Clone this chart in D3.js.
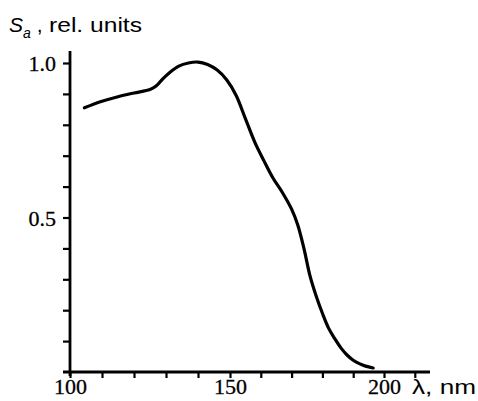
<!DOCTYPE html>
<html><head><meta charset="utf-8">
<script src="https://cdn.jsdelivr.net/npm/d3@7"></script>
<style>body{margin:0;background:#fff}svg{display:block}
.serif{font-family:"Liberation Serif","Times New Roman",serif !important}</style>
</head><body>
<script>
const wavelength = [104.5,110,115,120,125,127,129,131,134,137,140,143,146,149,152,155,158,161,164,167,170,172,174,176,178,180,182,184,186,188,190,192,194,196.5];
const sa = [0.855,0.876,0.891,0.903,0.914,0.926,0.949,0.968,0.990,1.000,1.003,0.995,0.977,0.945,0.895,0.820,0.745,0.684,0.627,0.581,0.527,0.476,0.400,0.310,0.245,0.190,0.142,0.108,0.078,0.055,0.038,0.027,0.019,0.013];
const xTicks = [100,110,120,130,140,150,160,170,180,190,200,210];
const xTickLabels = [100,150,200];
const yTicks = [0.1,0.2,0.3,0.4,0.5,0.6,0.7,0.8,0.9,1.0];
const yTickLabels = [0.5,1.0];

const W=478,H=401;
const svg=d3.select("body").append("svg").attr("width",W).attr("height",H);
const x=d3.scaleLinear().domain([100,150,200]).range([70,230,384]);
const y=d3.scaleLinear().domain([0,1]).range([372,63]);

// x axis
const xa=svg.append("g").attr("transform","translate(0,"+y(0)+")")
  .call(d3.axisBottom(x).tickValues(xTicks).tickSize(6).tickSizeOuter(0)
    .tickFormat(d=>xTickLabels.includes(d)?d:""));
xa.attr("font-family",null).attr("font-size",null);
xa.select(".domain").remove();
xa.append("line").attr("x1",x(100)-7).attr("x2",430).attr("stroke","#000").attr("stroke-width",2.8);
xa.selectAll(".tick line").attr("stroke","#000").attr("stroke-width",2.2);
xa.selectAll(".tick text").attr("class","serif").style("font-size","22px")
  .attr("fill","#000").attr("stroke","#000").attr("stroke-width",0.3).attr("dy",null).attr("y",22);

// y axis
const ya=svg.append("g").attr("transform","translate("+x(100)+",0)")
  .call(d3.axisLeft(y).tickValues(yTicks).tickSize(7).tickSizeOuter(0)
    .tickFormat(d=>yTickLabels.includes(d)?d.toFixed(1):""));
ya.attr("font-family",null).attr("font-size",null);
ya.select(".domain").remove();
ya.append("line").attr("y1",y(0)+4).attr("y2",51).attr("stroke","#000").attr("stroke-width",2.8);
ya.selectAll(".tick line").attr("stroke","#000").attr("stroke-width",2.2);
ya.selectAll(".tick text").attr("class","serif").style("font-size","22px")
  .attr("fill","#000").attr("stroke","#000").attr("stroke-width",0.3).attr("x",-14).attr("dy","0.36em");

// curve
const line=d3.line().x((d,i)=>x(wavelength[i])).y(d=>y(d)).curve(d3.curveCatmullRom.alpha(0.5));
svg.append("path").datum(sa).attr("d",line).attr("fill","none").attr("stroke","#000").attr("stroke-width",3.2).attr("stroke-linejoin","round").attr("stroke-linecap","round");

// y title
const t=svg.append("text").attr("x",9).attr("y",32).attr("font-family","'Liberation Sans',Arial,sans-serif").attr("font-size",21).attr("fill","#000");
t.append("tspan").attr("font-style","italic").text("S");
t.append("tspan").attr("font-style","italic").attr("font-size",14).attr("dy",6).text("a");
t.append("tspan").attr("dy",-6).text(" ,");
svg.append("text").attr("x",49).attr("y",32).attr("font-family","'Liberation Sans',Arial,sans-serif").attr("font-size",21).attr("fill","#000")
  .attr("textLength",93).attr("lengthAdjust","spacingAndGlyphs").text("rel. units");

// x title
svg.append("text").attr("x",412).attr("y",394).attr("font-family","'Liberation Sans',Arial,sans-serif").attr("font-size",21).attr("fill","#000")
  .attr("textLength",64).attr("lengthAdjust","spacingAndGlyphs").text("λ, nm");
</script>
</body></html>
